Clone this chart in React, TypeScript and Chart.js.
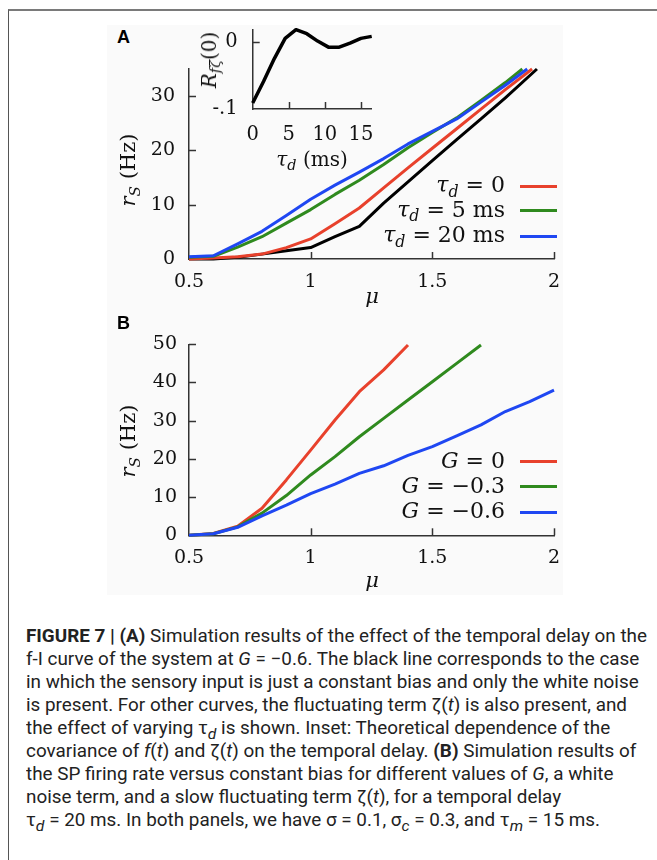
import React, { useEffect, useLayoutEffect, useRef } from 'react';
import { Chart, registerables } from 'chart.js';

Chart.register(...registerables);

// ---------- Panel A data ----------
const muA = [0.5, 0.6, 0.7, 0.8, 0.9, 1.0, 1.1, 1.2, 1.3, 1.4, 1.5, 1.6, 1.7, 1.8];
const muBlackA = [...muA, 1.93];
const rateBlackA = [0, 0, 0.3, 0.9, 1.5, 2.1, 4.1, 6.0, 10.3, 14.2, 18.1, 22.0, 25.8, 29.7, 35];
const muRedA = [...muA, 1.91];
const rateRedA = [0, 0.2, 0.4, 0.9, 2.1, 3.7, 6.5, 9.4, 13.1, 16.8, 20.4, 24.0, 27.6, 31.2, 35];
const muGreenA = [...muA, 1.87];
const rateGreenA = [0.3, 0.5, 2.2, 4.1, 6.6, 9.1, 11.9, 14.5, 17.4, 20.5, 23.3, 26.0, 29.2, 32.5, 35];
const muBlueA = [...muA, 1.89];
const rateBlueA = [0.4, 0.6, 2.8, 5.1, 8.0, 11.0, 13.6, 16.0, 18.5, 21.2, 23.5, 25.8, 28.9, 32.0, 35];
const xTicksA = [0.5, 1, 1.5, 2];
const yTicksA = [0, 10, 20, 30];
const tauLegendValues = ['0', '5 ms', '20 ms'];

// ---------- Inset data ----------
const tauInset = [0, 1.5, 3, 4.5, 6, 7.5, 9, 10.5, 12, 13.5, 15, 16.5];
const covInset = [-0.091, -0.059, -0.025, 0.005, 0.018, 0.012, 0.001, -0.008, -0.008, -0.002, 0.005, 0.008];
const xTicksInset = [0, 5, 10, 15];
const yTicksInset = [-0.1, 0];
const yTickLabelsInset = ['-.1', '0'];

// ---------- Panel B data ----------
const muB = [0.5, 0.6, 0.7, 0.8, 0.9, 1.0, 1.1, 1.2, 1.3, 1.4, 1.5, 1.6, 1.7, 1.8, 1.9, 2.0];
const rateG0 = [0, 0.5, 2.4, 7.1, 14.5, 22.3, 30.2, 37.6, 43.3, 49.8];
const rateG03 = [0, 0.4, 2.2, 5.8, 10.4, 15.8, 20.6, 25.8, 30.6, 35.4, 40.2, 45.0, 49.8];
const rateG06 = [0, 0.4, 2.1, 5.1, 7.9, 10.9, 13.4, 16.2, 18.2, 20.9, 23.2, 26.0, 28.9, 32.4, 35.0, 38.0];
const xTicksB = [0.5, 1, 1.5, 2];
const yTicksB = [0, 10, 20, 30, 40, 50];
const gLegendValues = ['0', '\u22120.3', '\u22120.6'];

const RED = '#e8412c';
const GREEN = '#2f8a1e';
const BLUE = '#1f47f2';
const BLACK = '#000000';
const AXIS = '#333333';
const SERIF = '"DejaVu Serif", "Liberation Serif", serif';

const pts = (xs: number[], ys: number[]) => ys.map((y, i) => ({ x: xs[i], y }));

const innerTicks = {
  id: 'innerTicks',
  afterDraw(chart: any, _args: any, opts: any) {
    const ctx = chart.ctx;
    const xs = chart.scales.x;
    const ys = chart.scales.y;
    ctx.save();
    ctx.strokeStyle = opts.color || AXIS;
    ctx.lineWidth = opts.width || 1.5;
    const len = opts.len || 7;
    xs.ticks.forEach((t: any) => {
      if (t.value === xs.min) return;
      const px = Math.round(xs.getPixelForValue(t.value)) + 0.5;
      ctx.beginPath();
      ctx.moveTo(px, xs.top);
      ctx.lineTo(px, xs.top - len);
      ctx.stroke();
    });
    ys.ticks.forEach((t: any) => {
      if (t.value === ys.min) return;
      const py = Math.round(ys.getPixelForValue(t.value)) + 0.5;
      ctx.beginPath();
      ctx.moveTo(ys.right, py);
      ctx.lineTo(ys.right + len, py);
      ctx.stroke();
    });
    ctx.restore();
  },
};

function lineDs(data: any[], color: string, width = 3) {
  return {
    data,
    borderColor: color,
    backgroundColor: color,
    borderWidth: width,
    pointRadius: 0,
    tension: 0,
    clip: false as any,
    borderJoinStyle: 'round' as const,
  };
}

function makeOptions(o: {
  xMin: number; xMax: number; yMin: number; yMax: number;
  xTicks: number[]; yTicks: number[]; yLabels?: string[];
  yWidth: number; xHeight: number; padTop: number; padRight: number;
  xPad: number; yPad: number; fontSize: number;
}) {
  const font = { family: SERIF, size: o.fontSize };
  return {
    responsive: false,
    maintainAspectRatio: false,
    animation: false as const,
    events: [],
    layout: { padding: { top: o.padTop, right: o.padRight, left: 0, bottom: 0 } },
    plugins: { legend: { display: false }, tooltip: { enabled: false }, innerTicks: { len: 7, color: AXIS, width: 1.5 } },
    scales: {
      x: {
        type: 'linear' as const,
        min: o.xMin,
        max: o.xMax,
        grid: { display: false, drawTicks: false },
        border: { display: true, color: AXIS, width: 1.5 },
        afterBuildTicks: (s: any) => { s.ticks = o.xTicks.map((v) => ({ value: v })); },
        afterFit: (s: any) => { s.height = o.xHeight; s.paddingLeft = 0; s.paddingRight = 0; },
        ticks: { color: '#111', font, padding: o.xPad, maxRotation: 0, autoSkip: false, callback: (v: any) => String(v) },
      },
      y: {
        type: 'linear' as const,
        min: o.yMin,
        max: o.yMax,
        grid: { display: false, drawTicks: false },
        border: { display: true, color: AXIS, width: 1.5 },
        afterBuildTicks: (s: any) => { s.ticks = o.yTicks.map((v) => ({ value: v })); },
        afterFit: (s: any) => { s.width = o.yWidth; s.paddingTop = 0; s.paddingBottom = 0; },
        ticks: {
          color: '#111', font, padding: o.yPad, autoSkip: false,
          callback: (v: any, i: number) => (o.yLabels ? o.yLabels[i] : String(v)),
        },
      },
    },
  };
}

const abs = (left: number, top: number): React.CSSProperties => ({ position: 'absolute', left, top });

const Sub = ({ children }: { children: React.ReactNode }) => (
  <span style={{ fontSize: '0.72em', position: 'relative', top: '0.3em', fontStyle: 'italic' }}>{children}</span>
);

function Centered({ x, y, rotate, size = 20, children }: any) {
  return (
    <div
      style={{
        position: 'absolute', left: x, top: y, whiteSpace: 'nowrap', fontFamily: SERIF, fontSize: size,
        lineHeight: 1, color: '#111',
        transform: `translate(-50%, -50%)${rotate ? ' rotate(-90deg)' : ''}`,
      }}
    >
      {children}
    </div>
  );
}

function LegendRow({ y, color, children }: any) {
  return (
    <>
      <div
        style={{
          position: 'absolute', right: 657 - 505, top: y, transform: 'translateY(-55%)', whiteSpace: 'nowrap',
          fontFamily: SERIF, fontSize: 22, lineHeight: 1, color: '#111',
        }}
      >
        {children}
      </div>
      <div style={{ position: 'absolute', left: 520, top: y - 1.5, width: 37, height: 3, background: color }} />
    </>
  );
}

const captionLines: React.ReactNode[] = [
  <><b>FIGURE 7 | (A)</b> Simulation results of the effect of the temporal delay on the</>,
  <>f-I curve of the system at <i>G</i> = −0.6. The black line corresponds to the case</>,
  <>in which the sensory input is just a constant bias and only the white noise</>,
  <>is present. For other curves, the fluctuating term ζ(<i>t</i>) is also present, and</>,
  <>the effect of varying τ<sub><i>d</i></sub> is shown. Inset: Theoretical dependence of the</>,
  <>covariance of <i>f</i>(<i>t</i>) and ζ(<i>t</i>) on the temporal delay. <b>(B)</b> Simulation results of</>,
  <>the SP firing rate versus constant bias for different values of <i>G</i>, a white</>,
  <>noise term, and a slow fluctuating term ζ(<i>t</i>), for a temporal delay</>,
  <>τ<sub><i>d</i></sub> = 20 ms. In both panels, we have σ = 0.1, σ<sub><i>c</i></sub> = 0.3, and τ<sub><i>m</i></sub> = 15 ms.</>,
];

export default function App() {
  const refA = useRef<HTMLCanvasElement>(null);
  const refInset = useRef<HTMLCanvasElement>(null);
  const refB = useRef<HTMLCanvasElement>(null);
  const capRef = useRef<HTMLDivElement>(null);

  useLayoutEffect(() => {
    const el = capRef.current;
    if (!el) return;
    const first = el.querySelector('[data-line="0"]') as HTMLElement | null;
    if (!first) return;
    const w = first.getBoundingClientRect().width;
    if (w > 0) {
      const s = Math.min(1.3, Math.max(0.6, 621 / w));
      el.style.transform = `scaleX(${s})`;
    }
  }, []);

  useEffect(() => {
    const charts: Chart[] = [];
    if (refA.current) {
      charts.push(
        new Chart(refA.current, {
          type: 'line',
          data: {
            datasets: [
              lineDs(pts(muBlueA, rateBlueA), BLUE),
              lineDs(pts(muGreenA, rateGreenA), GREEN),
              lineDs(pts(muRedA, rateRedA), RED),
              lineDs(pts(muBlackA, rateBlackA), BLACK),
            ],
          },
          options: makeOptions({
            xMin: 0.5, xMax: 2, yMin: 0, yMax: 35, xTicks: xTicksA, yTicks: yTicksA,
            yWidth: 89, xHeight: 46, padTop: 14, padRight: 16, xPad: 12, yPad: 14, fontSize: 19,
          }) as any,
          plugins: [innerTicks as any],
        })
      );
    }
    if (refInset.current) {
      charts.push(
        new Chart(refInset.current, {
          type: 'line',
          data: { datasets: [lineDs(pts(tauInset, covInset), BLACK, 3.5)] },
          options: makeOptions({
            xMin: 0, xMax: 16.5, yMin: -0.1, yMax: 0.0175, xTicks: xTicksInset, yTicks: yTicksInset,
            yLabels: yTickLabelsInset, yWidth: 52.7, xHeight: 61, padTop: 10, padRight: 18.3, xPad: 14, yPad: 15,
            fontSize: 19.5,
          }) as any,
          plugins: [innerTicks as any],
        })
      );
    }
    if (refB.current) {
      charts.push(
        new Chart(refB.current, {
          type: 'line',
          data: {
            datasets: [
              lineDs(pts(muB, rateG06), BLUE),
              lineDs(pts(muB, rateG03), GREEN),
              lineDs(pts(muB, rateG0), RED),
            ],
          },
          options: makeOptions({
            xMin: 0.5, xMax: 2, yMin: 0, yMax: 50, xTicks: xTicksB, yTicks: yTicksB,
            yWidth: 89, xHeight: 54.7, padTop: 14.3, padRight: 16, xPad: 11, yPad: 12, fontSize: 19,
          }) as any,
          plugins: [innerTicks as any],
        })
      );
    }
    return () => charts.forEach((c) => c.destroy());
  }, []);

  return (
    <div style={{ position: 'absolute', left: 0, top: 0, width: 657, height: 860, overflow: 'hidden', background: '#fff' }}>
      {/* frame */}
      <div style={{ position: 'absolute', left: 8, top: 9, width: 700, height: 900, borderTop: '2px solid #7a7a7a', borderLeft: '1.5px solid #555' }} />
      {/* figure background */}
      <div style={{ position: 'absolute', left: 107, top: 25, width: 456, height: 570, background: '#fafafa' }} />

      <canvas ref={refA} width={470} height={250} style={abs(100, 55)} />
      <canvas ref={refInset} width={190} height={150} style={abs(200, 20)} />
      <canvas ref={refB} width={470} height={260} style={abs(100, 330)} />

      {/* panel letters */}
      <div style={{ position: 'absolute', left: 117, top: 28, fontFamily: '"Liberation Sans", Arial, sans-serif', fontWeight: 700, fontSize: 18, lineHeight: 1 }}>A</div>
      <div style={{ position: 'absolute', left: 117, top: 314, fontFamily: '"Liberation Sans", Arial, sans-serif', fontWeight: 700, fontSize: 18, lineHeight: 1 }}>B</div>

      {/* axis titles A */}
      <Centered x={128} y={170} rotate size={21}><i>r</i><Sub>S</Sub>{'\u00a0'}(Hz)</Centered>
      <Centered x={372} y={296} size={21}><i>μ</i></Centered>
      {/* inset titles */}
      <Centered x={209} y={60} rotate size={20}><i>R</i><Sub>fζ</Sub>(0)</Centered>
      <Centered x={312} y={159} size={20}><i>τ</i><Sub>d</Sub>{'\u00a0'}(ms)</Centered>
      {/* axis titles B */}
      <Centered x={128} y={441} rotate size={21}><i>r</i><Sub>S</Sub>{'\u00a0'}(Hz)</Centered>
      <Centered x={372} y={580} size={21}><i>μ</i></Centered>

      {/* legend A */}
      {[RED, GREEN, BLUE].map((c, i) => (
        <LegendRow key={'a' + i} y={[186, 210.7, 236][i]} color={c}>
          <i>τ</i><Sub>d</Sub>{' = ' + tauLegendValues[i]}
        </LegendRow>
      ))}
      {/* legend B */}
      {[RED, GREEN, BLUE].map((c, i) => (
        <LegendRow key={'b' + i} y={[461.7, 486.7, 512.3][i]} color={c}>
          <i>G</i>{' = ' + gLegendValues[i]}
        </LegendRow>
      ))}

      {/* caption */}
      <div
        ref={capRef}
        style={{
          position: 'absolute', left: 26, top: 624.5, transformOrigin: 'left top',
          fontFamily: '"Liberation Sans Narrow", Roboto, "Noto Sans", sans-serif', fontSize: 18.5, color: '#222',
        }}
      >
        {captionLines.map((l, i) => (
          <div key={i} data-line={i} style={{ whiteSpace: 'nowrap', lineHeight: '23px', height: 23, width: 'max-content' }}>
            {l}
          </div>
        ))}
      </div>
    </div>
  );
}
